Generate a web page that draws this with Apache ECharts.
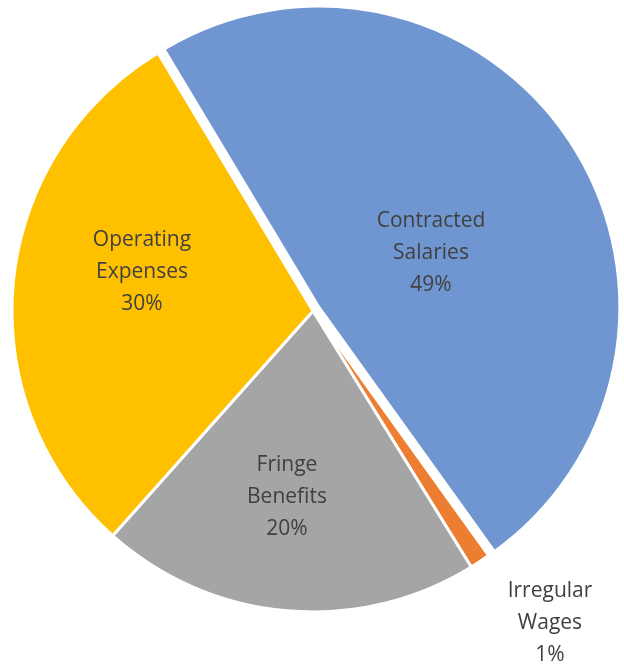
<!DOCTYPE html>
<html>
<head>
<meta charset="utf-8">
<style>
  html, body { margin: 0; padding: 0; background: #ffffff; }
  #chart { width: 624px; height: 666px; }
</style>
<script src="https://cdn.jsdelivr.net/npm/echarts@6/dist/echarts.min.js"></script>
</head>
<body>
<div id="chart"></div>
<script>
// Data (clockwise order starting at upper-left boundary)
const categories = ['Contracted\nSalaries', 'Irregular\nWages', 'Fringe\nBenefits', 'Operating\nExpenses'];
const values = [48.7, 1.1, 20.4, 29.8];
const exploded = [true, false, false, false];

// Styling kept separately
const colors = ['#7096D1', '#ED7D31', '#A5A5A5', '#FFC000'];
const labelCenters = [[431, 253], [550, 623], [287, 497], [142, 272]];
const pieCenter = [313, 311];
const pieRadius = 301;
const startAngle = 121;
const explodeDist = 7;

// offset centre for exploded slices, computed from each slice's bisector angle
const total = values.reduce((a, b) => a + b, 0);
function bisector(i) {
  let before = 0;
  for (let k = 0; k < i; k++) before += values[k];
  return (startAngle - (before + values[i] / 2) / total * 360) * Math.PI / 180;
}

const baseStyle = { borderColor: '#ffffff', borderWidth: 3 };
const hidden = { color: 'rgba(0,0,0,0)', borderWidth: 0 };

const series = [{
  type: 'pie',
  center: pieCenter,
  radius: [0, pieRadius],
  startAngle: startAngle,
  clockwise: true,
  avoidLabelOverlap: false,
  itemStyle: baseStyle,
  emphasis: { disabled: true },
  label: {
    show: true,
    position: 'inside',
    fontFamily: 'Open Sans',
    fontSize: 21,
    lineHeight: 32,
    color: '#404040',
    align: 'center',
    verticalAlign: 'middle',
    formatter: p => p.name + '\n' + Math.round(p.percent) + '%'
  },
  labelLine: { show: false },
  labelLayout: p => ({ x: labelCenters[p.dataIndex][0], y: labelCenters[p.dataIndex][1], align: 'center', verticalAlign: 'middle' }),
  z: 3,
  data: categories.map((c, i) => ({
    name: c,
    value: values[i],
    itemStyle: exploded[i] ? hidden : { color: colors[i] }
  }))
}];

exploded.forEach((ex, i) => {
  if (!ex) return;
  const a = bisector(i);
  series.push({
    type: 'pie',
    center: [pieCenter[0] + explodeDist * Math.cos(a), pieCenter[1] - explodeDist * Math.sin(a)],
    radius: [0, pieRadius],
    startAngle: startAngle,
    clockwise: true,
    silent: true,
    z: 2,
    itemStyle: baseStyle,
    emphasis: { disabled: true },
    label: { show: false },
    labelLine: { show: false },
    data: categories.map((c, j) => ({
      name: c,
      value: values[j],
      itemStyle: j === i ? { color: colors[j] } : hidden
    }))
  });
});

const chart = echarts.init(document.getElementById('chart'));
chart.setOption({ animation: false, series: series });
</script>
</body>
</html>
